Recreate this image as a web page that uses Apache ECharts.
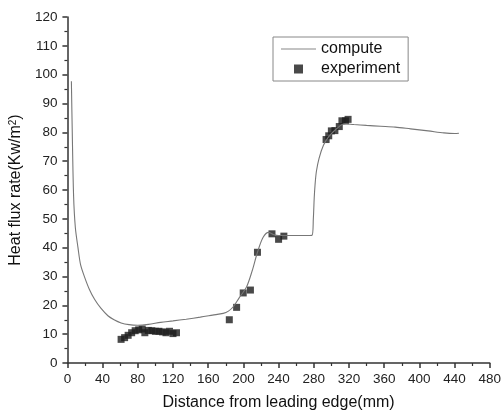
<!DOCTYPE html>
<html><head><meta charset="utf-8">
<script src="https://cdn.jsdelivr.net/npm/echarts@6/dist/echarts.min.js"></script>
<style>html,body{margin:0;padding:0;background:#fff}#c{width:504px;height:416px}</style>
</head><body><div id="c"></div>
<script>
// compute curve
const computeX = [4.5, 5.5, 7, 9, 12, 15, 19.5, 25, 31, 38, 46, 53, 61, 70, 80, 92, 106, 120, 135, 151, 165, 177, 183, 188.5, 195, 203.6, 210, 216, 222.3, 228.7, 234, 240, 250, 260, 270, 278, 279.5, 280.5, 281.5, 283, 286, 291, 297, 305, 315, 325.6, 340, 356, 372.6, 390, 410, 428, 440, 445];
const computeY = [97.7, 80, 58, 47, 40, 34, 29.8, 25.5, 22, 19, 16.4, 15, 13.9, 13.3, 13.1, 13.4, 14.1, 14.6, 15.2, 15.9, 16.6, 17.2, 18, 19.5, 22.5, 26.4, 32, 38.4, 43.5, 45.3, 44.6, 44.2, 44.2, 44.2, 44.2, 44.3, 50, 57.2, 62, 66.5, 71, 75.5, 78.5, 81, 83, 82.7, 82.4, 82.1, 81.8, 81.2, 80.5, 79.8, 79.6, 79.7];
// experiment points
const expX = [61, 65, 69, 73, 77, 81, 85, 88, 92, 96, 100, 104, 108, 112, 116, 120, 124, 184, 192.3, 199.8, 208, 216, 232.5, 240, 246, 294, 297, 300, 304, 309, 312, 316, 319];
const expY = [8.2, 8.8, 9.6, 10.5, 11.2, 11.5, 11.8, 10.5, 11.3, 11.2, 11, 11, 10.8, 10.5, 11, 10.2, 10.5, 15.0, 19.3, 24.3, 25.3, 38.4, 44.8, 42.9, 44, 77.5, 78.8, 80.5, 80.6, 82, 84, 84, 84.5];
const xTicks = {min: 0, max: 480, step: 40};
const yTicks = {min: 0, max: 120, step: 10};

const font = 'Liberation Sans, Arial, sans-serif';
const chart = echarts.init(document.getElementById('c'), null, {renderer: 'canvas'});
const axisCommon = {
  axisLine: {show: true, lineStyle: {color: '#333', width: 1.5}},
  axisTick: {show: true, inside: false, length: 5, lineStyle: {color: '#333', width: 1.5}},
  minorTick: {show: true, splitNumber: 2, length: 3, lineStyle: {color: '#333', width: 1.2}},
  splitLine: {show: false},
  axisLabel: {color: '#222', fontSize: 13.5, fontFamily: font},
  nameTextStyle: {color: '#111', fontSize: 16, fontFamily: font}
};
chart.setOption({
  animation: false,
  backgroundColor: '#fff',
  grid: {left: 66, right: 12, top: 17, bottom: 49, containLabel: false},
  legend: {
    left: 273, top: 37, orient: 'vertical',
    borderColor: '#888', borderWidth: 1, padding: [4, 8, 4, 8],
    itemGap: 4, itemWidth: 35, itemHeight: 9,
    textStyle: {color: '#111', fontSize: 16, fontFamily: font},
    data: [
      {name: 'compute', icon: 'path://M0,0h35v1.1h-35z'},
      {name: 'experiment', icon: 'path://M0,0h10v10h-10z'}
    ]
  },
  xAxis: Object.assign({}, axisCommon, {
    type: 'value', min: xTicks.min, max: xTicks.max, interval: xTicks.step,
    name: 'Distance from leading edge(mm)', nameLocation: 'middle', nameGap: 32,
    axisLabel: Object.assign({}, axisCommon.axisLabel, {margin: 9})
  }),
  yAxis: Object.assign({}, axisCommon, {
    type: 'value', min: yTicks.min, max: yTicks.max, interval: yTicks.step,
    name: 'Heat flux rate(Kw/m{s|2})', nameLocation: 'middle', nameGap: 36,
    nameTextStyle: {color: '#111', fontSize: 16, fontFamily: font,
      rich: {s: {fontSize: 10, verticalAlign: 'top', lineHeight: 10, padding: [0, 0, 6, 0], fontFamily: font, color: '#111'}}},
    axisLabel: Object.assign({}, axisCommon.axisLabel, {margin: 10})
  }),
  series: [
    {
      name: 'compute', type: 'line', symbol: 'none', smooth: 0.3,
      data: computeX.map((x, i) => [x, computeY[i]]),
      lineStyle: {color: '#777', width: 1.1}, itemStyle: {color: '#888'}
    },
    {
      name: 'experiment', type: 'scatter', symbol: 'rect', symbolSize: 7,
      data: expX.map((x, i) => [x, expY[i]]),
      itemStyle: {color: '#1c1c1c'}
    }
  ]
});
</script></body></html>
